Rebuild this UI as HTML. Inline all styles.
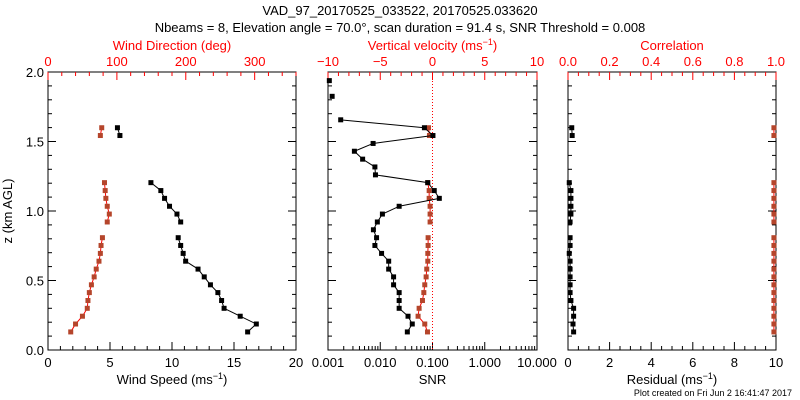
<!DOCTYPE html>
<html><head><meta charset="utf-8"><style>
html,body{margin:0;padding:0;background:#fff;}
svg{display:block;font-family:"Liberation Sans",sans-serif;}
</style></head><body>
<svg id="c" width="800" height="400" viewBox="0 0 800 400" xmlns="http://www.w3.org/2000/svg">
<text x="400" y="15" text-anchor="middle" font-size="13">VAD_97_20170525_033522, 20170525.033620</text>
<text x="400" y="32" text-anchor="middle" font-size="13">Nbeams = 8, Elevation angle = 70.0°, scan duration = 91.4 s, SNR Threshold = 0.008</text>
<text x="12" y="211" text-anchor="middle" font-size="13" transform="rotate(-90 12 211)">z (km AGL)</text>
<text x="792" y="396" text-anchor="end" font-size="9">Plot created on Fri Jun  2 16:41:47 2017</text>
</svg>
<script>
const heights=[0.13,0.187,0.243,0.30,0.356,0.413,0.469,0.526,0.582,0.639,0.695,0.752,0.808,0.865,0.921,0.978,1.034,1.091,1.147,1.204,1.26,1.317,1.373,1.43,1.486,1.543,1.599,1.656,1.712,1.769,1.825,1.882,1.938];
const windSpeed=[16.1,16.8,15.5,14.2,14.0,13.7,13.1,12.6,12.1,11.1,10.9,10.7,10.5,null,10.7,10.4,9.8,9.4,9.1,8.3,null,null,null,null,null,5.8,5.6,null,null,null,null,null,null];
const windDir=[33,40,50,57,58,60,63,67,70,74,76,77,79,null,86,89,86,84,83,82,null,null,null,null,null,76,78,null,null,null,null,null,null];
const snr=[0.033,0.041,0.034,0.023,0.023,0.023,0.018,0.018,0.0145,0.0145,0.0106,0.0079,0.0085,0.0074,0.0088,0.011,0.023,0.135,0.108,0.081,0.0081,0.0079,0.0046,0.0032,0.0073,0.102,0.070,0.00175,null,null,0.0012,null,0.00106];
const wVel=[-0.48,-0.74,-1.38,-1.28,-0.96,-0.83,-0.74,-0.61,-0.55,-0.45,-0.45,-0.42,-0.42,null,-0.23,-0.23,-0.23,-0.32,-0.32,-0.45,null,null,null,null,null,-0.29,-0.38,null,null,null,null,null,null];
const residual=[0.27,0.24,0.27,0.27,0.14,0.1,0.1,0.1,0.1,0.1,0.06,0.1,0.1,null,0.1,0.14,0.14,0.14,0.14,0.06,null,null,null,null,null,0.2,0.18,null,null,null,null,null,null];
const correl=[0.99,0.99,0.99,0.99,0.99,0.99,0.99,0.99,0.99,0.99,0.99,0.99,0.99,null,0.99,0.99,0.99,0.99,0.99,0.99,null,null,null,null,null,0.99,0.99,null,null,null,null,null,null];
const zTicks=["0.0","0.5","1.0","1.5","2.0"];
const wsTicks=["0","5","10","15","20"];
const wdTicks=["0","100","200","300"];
const snrTicks=["0.001","0.010","0.100","1.000","10.000"];
const wTicks=["\u221210","\u22125","0","5","10"];
const resTicks=["0","2","4","6","8","10"];
const corTicks=["0.0","0.2","0.4","0.6","0.8","1.0"];

const svg=document.getElementById('c');const NS='http://www.w3.org/2000/svg';
function el(t,a,txt){const e=document.createElementNS(NS,t);for(const k in a)e.setAttribute(k,a[k]);if(txt!==undefined)e.textContent=txt;svg.appendChild(e);return e;}
const T=72,B=350;
const yS=z=>B-(B-T)*z/2;
function lin(x0,x1,a,b){return v=>x0+(x1-x0)*(v-a)/(b-a);}
function logS(x0,x1,a,b){return v=>x0+(x1-x0)*(Math.log10(v)-Math.log10(a))/(Math.log10(b)-Math.log10(a));}
function frame(x0,x1,name){const r=el('rect',{x:x0,y:T,width:x1-x0,height:B-T,fill:'none',stroke:'#000','stroke-width':1});
}
function tick(x,y,len,col,up){el('line',{x1:x,y1:y,x2:x,y2:up?y+len:y-len,stroke:col,'stroke-width':1});}
function yAxis(x0,x1,labels){for(let v=0;v<=20;v++){const y=yS(v/10),L=v%5==0?8:4;el('line',{x1:x0,y1:y,x2:x0+L,y2:y,stroke:'#000'});el('line',{x1:x1,y1:y,x2:x1-L,y2:y,stroke:'#000'});}
if(labels)zTicks.forEach((t,i)=>{const tx=el('text',{x:x0-4,y:yS(i*0.5)+5,'text-anchor':'end','font-size':13},t);});}
function series(xs,vals,col,name,line){let prev=null;vals.forEach((v,i)=>{if(v==null){prev=null;return;}const x=xs(v),y=yS(heights[i]);
if(prev&&line)el('line',{x1:prev[0],y1:prev[1],x2:x,y2:y,stroke:line,'stroke-width':1});prev=[x,y];});
vals.forEach((v,i)=>{if(v==null)return;const r=el('rect',{x:xs(v)-2.5,y:yS(heights[i])-2.5,width:5,height:5,fill:col});});}
function lab(x,y,t,col,name,size){const e=el('text',{x:x,y:y,'text-anchor':'middle','font-size':size||13,fill:col},t);return e;}

// Panel 1
const L0=48,L1=296;const ws=lin(L0,L1,0,20),wd=lin(L0,L1,0,360);
frame(L0,L1,'wind-panel');yAxis(L0,L1,true);
for(let v=0;v<=20;v++)tick(ws(v),B,v%5==0?8:4,'#000');
wsTicks.forEach(t=>lab(ws(+t),367,t,'#000','wind-speed-tick-label'));
for(let v=0;v<=360;v+=20)tick(wd(v),T,v%100==0?8:4,'red',true);
wdTicks.forEach(t=>lab(wd(+t),66,t,'red','wind-direction-tick-label'));
lab((L0+L1)/2,50,'Wind Direction (deg)','red','wind-direction-axis-title');
const wsT=lab((L0+L1)/2,384,'','#000','wind-speed-axis-title');wsT.innerHTML='Wind Speed (ms<tspan dy="-5" font-size="9">−1</tspan><tspan dy="5">)</tspan>';
series(wd,windDir,'#b5452b','wind-direction','red');
series(ws,windSpeed,'#000','wind-speed','#000');

// Panel 2
const M0=328,M1=537;const sx=logS(M0,M1,0.001,10),wx=lin(M0,M1,-10,10);
frame(M0,M1,'snr-panel');yAxis(M0,M1,false);
for(let d=-3;d<1;d++)for(let m=1;m<=9;m++)tick(sx(m*Math.pow(10,d)),B,m==1?8:4,'#000');tick(sx(10),B,8,'#000');
snrTicks.forEach(t=>lab(sx(+t),367,t,'#000','snr-tick-label'));
lab((M0+M1)/2,384,'SNR','#000','snr-axis-title');
for(let v=-10;v<=10;v++)tick(wx(v),T,v%5==0?8:4,'red',true);
wTicks.forEach((t,i)=>lab(wx(-10+5*i),66,t,'red','vertical-velocity-tick-label'));
const vT=lab((M0+M1)/2,50,'','red','vertical-velocity-axis-title');vT.innerHTML='Vertical velocity (ms<tspan dy="-5" font-size="9">−1</tspan><tspan dy="5">)</tspan>';
const zl=el('line',{x1:wx(0),y1:T,x2:wx(0),y2:B,stroke:'red','stroke-dasharray':'1,2'});
series(wx,wVel,'#b5452b','vertical-velocity','red');
series(sx,snr,'#000','snr','#000');

// Panel 3
const R0=568,R1=776;const rx=lin(R0,R1,0,10),cx=lin(R0,R1,0,1);
frame(R0,R1,'residual-panel');yAxis(R0,R1,false);
for(let v=0;v<=20;v++)tick(rx(v/2),B,v%4==0?8:4,'#000');
resTicks.forEach(t=>lab(rx(+t),367,t,'#000','residual-tick-label'));
const rT=lab((R0+R1)/2,384,'','#000','residual-axis-title');rT.innerHTML='Residual (ms<tspan dy="-5" font-size="9">−1</tspan><tspan dy="5">)</tspan>';
for(let v=0;v<=20;v++)tick(cx(v/20),T,v%4==0?8:4,'red',true);
corTicks.forEach(t=>lab(cx(+t),66,t,'red','correlation-tick-label'));
lab((R0+R1)/2,50,'Correlation','red','correlation-axis-title');
series(cx,correl,'#b5452b','correlation','red');
series(rx,residual,'#000','residual','#000');
</script>
</body></html>
